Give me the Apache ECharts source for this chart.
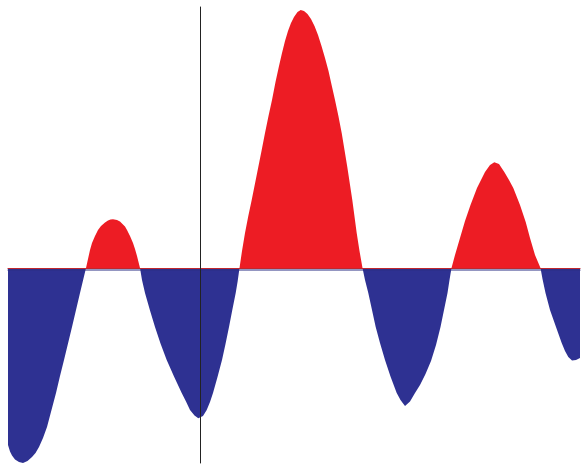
<!DOCTYPE html>
<html>
<head>
<meta charset="utf-8">
<script src="https://cdn.jsdelivr.net/npm/echarts@6/dist/echarts.min.js"></script>
<style>html,body{margin:0;padding:0;background:#fff;}#c{width:582px;height:464px;}</style>
</head>
<body>
<div id="c"></div>
<script>
// x positions and function values (arbitrary units)
const xValues = [
  -192,-190,-188,-185,-181,-177,-172.5,-168,-164.5,-161,-157,-153,-148.5,-144,-140,-136,-132,-128,-124,-120,-117,-114,
  -112,-110,-108,-105,-102,-99,-95,-92,-89.5,-87,-83,-80,-78,-75,-73,-70,-67,-65,-63,-60,
  -58,-55,-50,-45,-39.5,-33.3,-26,-18.3,-14,-10,-5.5,-1.7,3,6.7,10,13,17.5,22,25.5,29,32.3,35.7,37.7,39.5,
  42,45,48.3,51.7,55,58.3,61.7,65,68.5,72,75.5,79,82,85,88,91,94,97.5,100.7,104,107.5,111,114.5,118,121.5,125,128.5,131.5,135,138.5,141.7,144.5,147.3,149.8,152.3,154.5,156.7,159.5,162.5,
  165,168.3,172,175.7,180,185,190.5,196.7,200.5,205,210,215,220,225.5,231,236,240.5,244,247.5,249.5,251.5,
  255,260,265,270.5,277,285,290,294.3,299,304.3,309,313.3,320,325.7,330,335,340.5,
  342.5,345.5,350,356,361.7,365,368.3,372,376,380];
const yValues = [
  -177,-183.5,-187.5,-191.5,-194,-195,-193,-189,-185,-179,-170,-159,-142,-125,-108,-92,-75.5,-59,-42,-25,-12.5,0,
  9,18,25,32,38,42,45.5,47.5,48.4,48.7,48,46.5,45,41.5,38,32,25,19,12,0,
  -12,-25,-42.5,-59,-75.5,-92,-108.5,-125,-133.5,-142,-147.5,-150.3,-148,-142,-134,-125,-109,-92,-76,-59,-42,-25,-13,0,
  17,35,52,68,84.5,101,118,135,152,168,186,202,215,227,237,245,251,256,258,257,254,249,242,233,222,210,197,183.5,168,151.5,135,118,101,84.5,68,51.5,35,17,0,
  -12,-25,-42,-59,-75,-92,-108.5,-125,-132,-138,-133.5,-125,-117,-106,-93,-77,-59,-42,-25,-12,0,
  13,30,47,63,80,96,103,105.7,104,96,88,80,63,46,30,13,0,
  -11,-25,-42,-59,-75,-83,-89,-92.5,-92,-90];
const xRange = [-192, 380];
const yRange = [-195, 261];

const data = xValues.map((x, i) => [x, yValues[i]]);
const chart = echarts.init(document.getElementById('c'), null, {renderer: 'canvas'});
const option = {
  animation: false,
  backgroundColor: '#ffffff',
  grid: {left: 8, right: 2, top: 7, bottom: 1},
  xAxis: {
    type: 'value', min: xRange[0], max: xRange[1], z: 10,
    axisLine: {onZero: true, lineStyle: {color: '#c0272d', width: 1.2,
      shadowColor: '#2b2e83', shadowOffsetY: 1.5, shadowBlur: 0}},
    axisTick: {show: false}, axisLabel: {show: false}, splitLine: {show: false}
  },
  yAxis: {
    type: 'value', min: yRange[0], max: yRange[1], z: 11,
    axisLine: {show: true, onZero: true, lineStyle: {color: '#222', width: 1}},
    axisTick: {show: false}, axisLabel: {show: false}, splitLine: {show: false}
  },
  series: [{
    type: 'line', data: data, smooth: false,
    showSymbol: false, symbol: 'none',
    lineStyle: {width: 0, opacity: 0},
    areaStyle: {opacity: 1, origin: 0, color: '#ed1c24'}
  }]
};
chart.setOption(option);
// split the fill colour exactly at the zero line, located through the axis scale
const zeroY = chart.convertToPixel({gridIndex: 0}, [0, 0])[1];
const H = 464;
const f = zeroY / H;
chart.setOption({
  series: [{
    areaStyle: {
      opacity: 1, origin: 0,
      color: {
        type: 'linear', global: true, x: 0, y: 0, x2: 0, y2: H,
        colorStops: [
          {offset: 0, color: '#ed1c24'},
          {offset: f, color: '#ed1c24'},
          {offset: f, color: '#2e3192'},
          {offset: 1, color: '#2e3192'}
        ]
      }
    }
  }]
});
</script>
</body>
</html>
